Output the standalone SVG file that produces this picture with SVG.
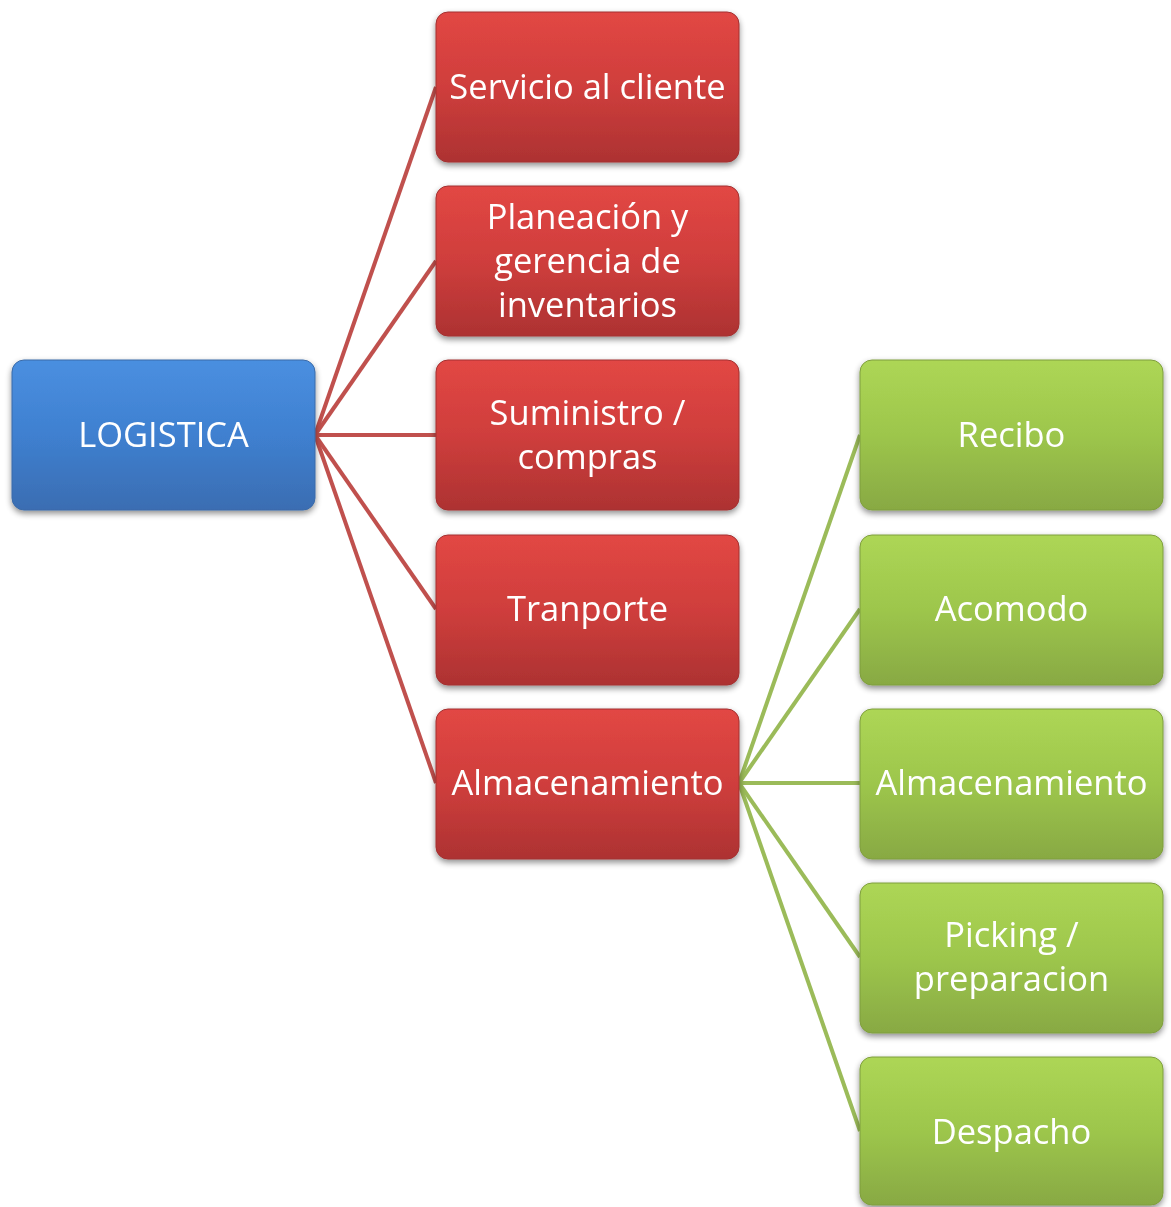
<svg xmlns="http://www.w3.org/2000/svg" width="1171" height="1207" viewBox="0 0 1171 1207">
<defs>
<linearGradient id="gb" x1="0" y1="0" x2="0" y2="1"><stop offset="0" stop-color="#4a8fe0"/><stop offset="0.5" stop-color="#3f80d0"/><stop offset="1" stop-color="#3a6db2"/></linearGradient>
<linearGradient id="gr" x1="0" y1="0" x2="0" y2="1"><stop offset="0" stop-color="#e24744"/><stop offset="0.5" stop-color="#cf3e3c"/><stop offset="1" stop-color="#ad3232"/></linearGradient>
<linearGradient id="gg" x1="0" y1="0" x2="0" y2="1"><stop offset="0" stop-color="#add655"/><stop offset="0.5" stop-color="#9dc64c"/><stop offset="1" stop-color="#88a943"/></linearGradient>
<filter id="sh" x="-10%" y="-10%" width="120%" height="130%"><feGaussianBlur in="SourceAlpha" stdDeviation="3"/><feOffset dy="3"/><feComponentTransfer><feFuncA type="linear" slope="0.45"/></feComponentTransfer><feMerge><feMergeNode/><feMergeNode in="SourceGraphic"/></feMerge></filter>
</defs>
<style>
.n{filter:url(#sh);}
.b{fill:url(#gb);stroke:#3a6aa8;stroke-width:1}
.r{fill:url(#gr);stroke:#a33030;stroke-width:1}
.g{fill:url(#gg);stroke:#7f9e3e;stroke-width:1}
text{font-family:"Open Sans",sans-serif;font-size:34.5px;fill:#fff;text-anchor:middle}
.cr{stroke:#c0504d;stroke-width:4;fill:none}
.cg{stroke:#9bbb59;stroke-width:4;fill:none}
</style>
<g id="connectors">
<line class="cr" x1="315" y1="435" x2="436" y2="87"/>
<line class="cr" x1="315" y1="435" x2="436" y2="261"/>
<line class="cr" x1="315" y1="435" x2="436" y2="435"/>
<line class="cr" x1="315" y1="435" x2="436" y2="609"/>
<line class="cr" x1="315" y1="435" x2="436" y2="783"/>
<line class="cg" x1="739" y1="783" x2="860" y2="435"/>
<line class="cg" x1="739" y1="783" x2="860" y2="609"/>
<line class="cg" x1="739" y1="783" x2="860" y2="783"/>
<line class="cg" x1="739" y1="783" x2="860" y2="957"/>
<line class="cg" x1="739" y1="783" x2="860" y2="1131"/>
</g>
<g id="logistica" class="n"><rect class="b" x="12" y="360" width="303" height="150" rx="12"/><text x="163.5" y="447">LOGISTICA</text></g>
<g id="servicio" class="n"><rect class="r" x="436" y="12" width="303" height="150" rx="12"/><text x="587.5" y="99">Servicio al cliente</text></g>
<g id="planeacion" class="n"><rect class="r" x="436" y="186" width="303" height="150" rx="12"/><text x="587.5" y="229">Planeación y</text><text x="587.5" y="273">gerencia de</text><text x="587.5" y="317">inventarios</text></g>
<g id="suministro" class="n"><rect class="r" x="436" y="360" width="303" height="150" rx="12"/><text x="587.5" y="425">Suministro /</text><text x="587.5" y="469">compras</text></g>
<g id="tranporte" class="n"><rect class="r" x="436" y="535" width="303" height="150" rx="12"/><text x="587.5" y="621">Tranporte</text></g>
<g id="almacenamiento" class="n"><rect class="r" x="436" y="709" width="303" height="150" rx="12"/><text x="587.5" y="795">Almacenamiento</text></g>
<g id="recibo" class="n"><rect class="g" x="860" y="360" width="303" height="150" rx="12"/><text x="1011.5" y="447">Recibo</text></g>
<g id="acomodo" class="n"><rect class="g" x="860" y="535" width="303" height="150" rx="12"/><text x="1011.5" y="621">Acomodo</text></g>
<g id="almacenamiento2" class="n"><rect class="g" x="860" y="709" width="303" height="150" rx="12"/><text x="1011.5" y="795">Almacenamiento</text></g>
<g id="picking" class="n"><rect class="g" x="860" y="883" width="303" height="150" rx="12"/><text x="1011.5" y="947">Picking /</text><text x="1011.5" y="991">preparacion</text></g>
<g id="despacho" class="n"><rect class="g" x="860" y="1057" width="303" height="148" rx="12"/><text x="1011.5" y="1144">Despacho</text></g>
</svg>
